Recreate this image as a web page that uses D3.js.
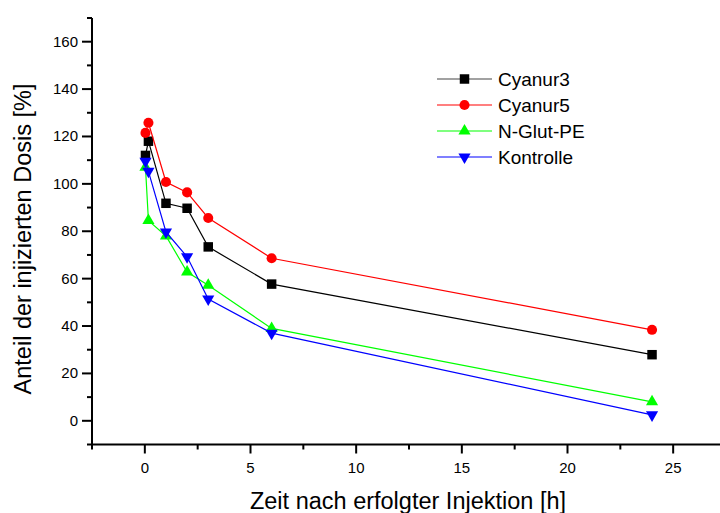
<!DOCTYPE html>
<html>
<head>
<meta charset="utf-8">
<script src="https://cdn.jsdelivr.net/npm/d3@7"></script>
<style>
    body { margin: 0; background: #fff; }
    svg { display: block; font-family: Arial, 'Liberation Sans', sans-serif; }
</style>
</head>
<body>
<svg id="chart" width="720" height="513"></svg>
<script>
// sampling times in hours
const times = [0.03, 0.17, 1, 2, 3, 6, 24];
const cyanur3 = [112, 118, 91.8, 89.7, 73.4, 57.7, 27.9];
const cyanur5 = [121.5, 125.8, 100.8, 96.4, 85.6, 68.6, 38.4];
const nGlutPE = [107, 84.5, 78, 62.8, 57.2, 39, 8];
const kontrolle = [109.5, 105.3, 79.7, 69.2, 51.4, 37, 2.5];

const seriesNames = ['Cyanur3', 'Cyanur5', 'N-Glut-PE', 'Kontrolle'];
const seriesValues = [cyanur3, cyanur5, nGlutPE, kontrolle];
const xTicks = [0, 5, 10, 15, 20, 25];
const yTicks = [0, 20, 40, 60, 80, 100, 120, 140, 160];

const colors = ['#000000', '#ff0000', '#00ff00', '#0000ff'];
const symbols = [
    { type: d3.symbolSquare, size: 90, rotate: 0 },
    { type: d3.symbolCircle, size: 80, rotate: 0 },
    { type: d3.symbolTriangle, size: 64, rotate: 0 },
    { type: d3.symbolTriangle, size: 64, rotate: 180 }
];

const svg = d3.select('#chart');

const x = d3.scaleLinear().domain([-2.5, 27.5]).range([92, 726]);
const y = d3.scaleLinear().domain([-10, 170]).range([444.5, 18]);

// minor ticks every 2.5 h and every 10 %
const xMinor = d3.range(-2.5, 27.6, 2.5).filter(v => !xTicks.includes(v));
const yMinor = d3.range(-10, 171, 10).filter(v => !yTicks.includes(v));

const axes = svg.append('g').attr('stroke', '#000');

axes.append('line')
    .attr('x1', x(-2.5)).attr('x2', 720)
    .attr('y1', y(-10)).attr('y2', y(-10))
    .attr('stroke-width', 2);

axes.append('line')
    .attr('x1', x(-2.5)).attr('x2', x(-2.5))
    .attr('y1', y(170)).attr('y2', y(-10))
    .attr('stroke-width', 2);

axes.selectAll('.xmaj')
    .data(xTicks)
    .enter()
    .append('line')
    .attr('x1', d => x(d)).attr('x2', d => x(d))
    .attr('y1', y(-10)).attr('y2', y(-10) + 9)
    .attr('stroke-width', 2);

axes.selectAll('.xmin')
    .data(xMinor)
    .enter()
    .append('line')
    .attr('x1', d => x(d)).attr('x2', d => x(d))
    .attr('y1', y(-10)).attr('y2', y(-10) + 5)
    .attr('stroke-width', 2);

axes.selectAll('.ymaj')
    .data(yTicks)
    .enter()
    .append('line')
    .attr('x1', x(-2.5) - 10).attr('x2', x(-2.5))
    .attr('y1', d => y(d)).attr('y2', d => y(d))
    .attr('stroke-width', 2);

axes.selectAll('.ymin')
    .data(yMinor)
    .enter()
    .append('line')
    .attr('x1', x(-2.5) - 5).attr('x2', x(-2.5))
    .attr('y1', d => y(d)).attr('y2', d => y(d))
    .attr('stroke-width', 2);

svg.selectAll('.xlab')
    .data(xTicks)
    .enter()
    .append('text')
    .attr('x', d => x(d))
    .attr('y', y(-10) + 28)
    .attr('text-anchor', 'middle')
    .style('font-size', '15px')
    .text(d => d);

svg.selectAll('.ylab')
    .data(yTicks)
    .enter()
    .append('text')
    .attr('x', x(-2.5) - 14)
    .attr('y', d => y(d) + 5)
    .attr('text-anchor', 'end')
    .style('font-size', '15px')
    .text(d => d);

svg.append('text')
    .attr('x', 408)
    .attr('y', 509)
    .attr('text-anchor', 'middle')
    .style('font-size', '23.5px')
    .text('Zeit nach erfolgter Injektion [h]');

svg.append('text')
    .attr('transform', 'translate(31,' + 239 + ') rotate(-90)')
    .attr('text-anchor', 'middle')
    .style('font-size', '23.5px')
    .text('Anteil der injizierten Dosis [%]');

// series lines and markers, Kontrolle drawn last
const line = d3.line().x((d, i) => x(times[i])).y(d => y(d));

seriesValues.forEach((vals, k) => {
    const g = svg.append('g');
    g.append('path')
        .datum(vals)
        .attr('d', line)
        .attr('fill', 'none')
        .attr('stroke', colors[k])
        .attr('stroke-width', 1.2);

    const sym = d3.symbol().type(symbols[k].type).size(symbols[k].size);
    g.selectAll('.pt')
        .data(vals)
        .enter()
        .append('path')
        .attr('d', sym)
        .attr('transform', (d, i) => 'translate(' + x(times[i]) + ',' + y(d) + ') rotate(' + symbols[k].rotate + ')')
        .attr('fill', colors[k]);
});

// legend
const legend = svg.append('g').attr('transform', 'translate(437,79)');
const legendRows = legend.selectAll('.row')
    .data(seriesNames)
    .enter()
    .append('g')
    .attr('transform', (d, i) => 'translate(0,' + (i * 26) + ')');

legendRows.append('line')
    .attr('x1', 0).attr('x2', 55)
    .attr('y1', 0).attr('y2', 0)
    .attr('stroke', (d, i) => i === 0 ? '#444' : colors[i])
    .attr('stroke-width', 1.2);

legendRows.append('path')
    .attr('d', (d, i) => d3.symbol().type(symbols[i].type).size(symbols[i].size)())
    .attr('transform', (d, i) => 'translate(27.5,0) rotate(' + symbols[i].rotate + ')')
    .attr('fill', (d, i) => colors[i]);

legendRows.append('text')
    .attr('x', 61)
    .attr('y', 7)
    .style('font-size', '19px')
    .text(d => d);
</script>
</body>
</html>
